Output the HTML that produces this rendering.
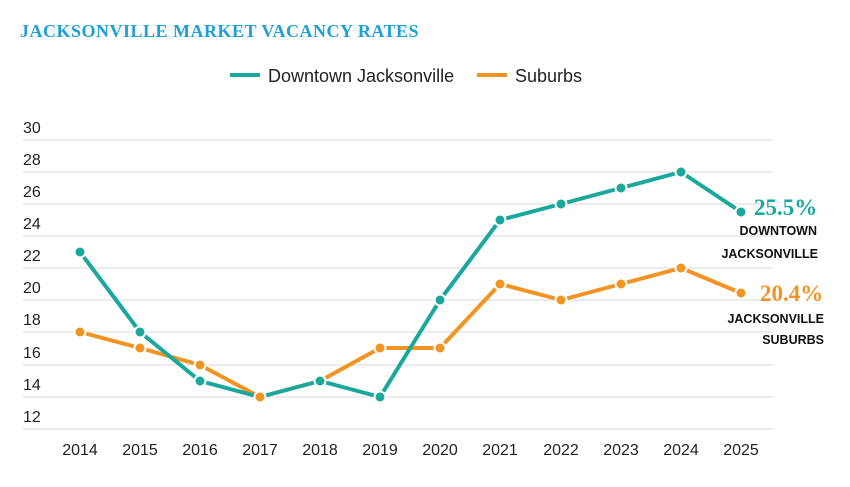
<!DOCTYPE html>
<html><head><meta charset="utf-8"><style>
body{margin:0;background:#fff;width:850px;height:487px;overflow:hidden}
svg{display:block}
</style></head><body>
<svg width="850" height="487" xmlns="http://www.w3.org/2000/svg" font-family="Liberation Sans, sans-serif">
<text x="20" y="37" font-family="Liberation Serif, serif" font-weight="bold" font-size="18" letter-spacing="0.5" fill="#1e9fd8">JACKSONVILLE MARKET VACANCY RATES</text>
<line x1="230" y1="75" x2="260" y2="75" stroke="#1aa79c" stroke-width="4"/>
<text x="268" y="82" font-size="18" fill="#222">Downtown Jacksonville</text>
<line x1="477" y1="75" x2="507" y2="75" stroke="#f29422" stroke-width="4"/>
<text x="515" y="82" font-size="18" fill="#222">Suburbs</text>
<g stroke="#e6e6e6" stroke-width="1.5">
<line x1="23" x2="773" y1="140" y2="140"/><line x1="23" x2="773" y1="172" y2="172"/><line x1="23" x2="773" y1="204" y2="204"/><line x1="23" x2="773" y1="236" y2="236"/><line x1="23" x2="773" y1="268" y2="268"/><line x1="23" x2="773" y1="300" y2="300"/><line x1="23" x2="773" y1="332" y2="332"/><line x1="23" x2="773" y1="365" y2="365"/><line x1="23" x2="773" y1="397" y2="397"/><line x1="23" x2="773" y1="429" y2="429"/>
</g>
<g font-size="16" fill="#222">
<text x="23" y="133">30</text><text x="23" y="165">28</text><text x="23" y="197">26</text><text x="23" y="229">24</text><text x="23" y="261">22</text><text x="23" y="293">20</text><text x="23" y="325">18</text><text x="23" y="358">16</text><text x="23" y="390">14</text><text x="23" y="422">12</text>
</g>
<g font-size="16" fill="#222" text-anchor="middle">
<text x="80" y="455">2014</text><text x="140" y="455">2015</text><text x="200" y="455">2016</text><text x="260" y="455">2017</text><text x="320" y="455">2018</text><text x="380" y="455">2019</text><text x="440" y="455">2020</text><text x="500" y="455">2021</text><text x="561" y="455">2022</text><text x="621" y="455">2023</text><text x="681" y="455">2024</text><text x="741" y="455">2025</text>
</g>
<polyline points="80,332 140,348 200,365 260,397 320,381 380,348 440,348 500,284 561,300 621,284 681,268 741,293" fill="none" stroke="#f29422" stroke-width="4" stroke-linejoin="round"/>
<g fill="#f29422" stroke="#fff" stroke-width="2">
<circle cx="80" cy="332" r="5.5"/><circle cx="140" cy="348" r="5.5"/><circle cx="200" cy="365" r="5.5"/><circle cx="320" cy="381" r="5.5"/><circle cx="380" cy="348" r="5.5"/><circle cx="440" cy="348" r="5.5"/><circle cx="500" cy="284" r="5.5"/><circle cx="561" cy="300" r="5.5"/><circle cx="621" cy="284" r="5.5"/><circle cx="681" cy="268" r="5.5"/><circle cx="741" cy="293" r="5.5"/>
</g>
<polyline points="80,252 140,332 200,381 260,397 320,381 380,397 440,300 500,220 561,204 621,188 681,172 741,212" fill="none" stroke="#1aa79c" stroke-width="4" stroke-linejoin="round"/>
<g fill="#1aa79c" stroke="#fff" stroke-width="2">
<circle cx="80" cy="252" r="5.5"/><circle cx="140" cy="332" r="5.5"/><circle cx="200" cy="381" r="5.5"/><circle cx="320" cy="381" r="5.5"/><circle cx="380" cy="397" r="5.5"/><circle cx="440" cy="300" r="5.5"/><circle cx="500" cy="220" r="5.5"/><circle cx="561" cy="204" r="5.5"/><circle cx="621" cy="188" r="5.5"/><circle cx="681" cy="172" r="5.5"/><circle cx="741" cy="212" r="5.5"/>
</g>
<circle cx="260" cy="397" r="5.5" fill="#f29422" stroke="#fff" stroke-width="2"/>
<text x="754" y="215" font-family="Liberation Serif, serif" font-weight="bold" font-size="23" fill="#1aa79c">25.5%</text>
<g font-size="12.5" fill="#111" text-anchor="end" font-weight="bold">
<text x="817" y="235">DOWNTOWN</text><text x="818" y="258">JACKSONVILLE</text>
<text x="824" y="323">JACKSONVILLE</text><text x="824" y="344">SUBURBS</text>
</g>
<text x="760" y="301" font-family="Liberation Serif, serif" font-weight="bold" font-size="23" fill="#f29422">20.4%</text>
</svg>
</body></html>
